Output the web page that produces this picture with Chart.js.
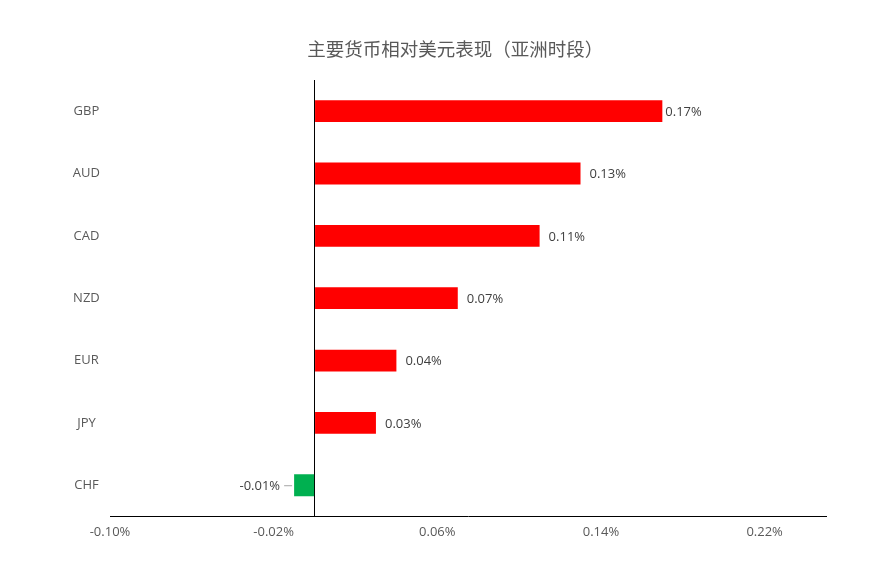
<!DOCTYPE html>
<html><head><meta charset="utf-8">
<script src="https://cdn.jsdelivr.net/npm/chart.js@4"></script>
<style>html,body{margin:0;padding:0;background:#fff}#wrap{width:877px;height:564px}</style>
</head><body><div id="wrap"><canvas id="c"></canvas></div>
<script>
const categories = ['GBP','AUD','CAD','NZD','EUR','JPY','CHF'];
const values = [0.17, 0.13, 0.11, 0.07, 0.04, 0.03, -0.01];
const tickValues = [-0.10, -0.02, 0, 0.06, 0.14, 0.22];
const titleText = '主要货币相对美元表现（亚洲时段）';

const colors = values.map(v => v >= 0 ? '#FF0000' : '#00B050');
const txt = '#595959';

const titlePlugin = {
  id: 'offsetTitle',
  afterDraw(chart) {
    const ctx = chart.ctx;
    ctx.save();
    ctx.font = '18.5px "Noto Sans CJK SC"';
    ctx.fillStyle = txt;
    ctx.textAlign = 'center';
    ctx.textBaseline = 'middle';
    ctx.fillText(titleText, chart.width * 0.519, 49);
    ctx.restore();
  }
};

const labelPlugin = {
  id: 'barLabels',
  afterDatasetsDraw(chart) {
    const ctx = chart.ctx;
    const meta = chart.getDatasetMeta(0);
    ctx.save();
    ctx.font = '13px "Open Sans"';
    ctx.fillStyle = '#404040';
    ctx.textBaseline = 'middle';
    meta.data.forEach((bar, i) => {
      const v = values[i];
      const s = v.toFixed(2) + '%';
      if (v >= 0) {
        ctx.textAlign = 'left';
        const gap = (bar.x > chart.chartArea.left + (chart.chartArea.right - chart.chartArea.left) * 0.7) ? 3 : 9;
        ctx.fillText(s, bar.x + gap, bar.y + 1);
      } else {
        ctx.textAlign = 'right';
        ctx.fillText(s, bar.x - 14, bar.y + 1);
        ctx.strokeStyle = '#a6a6a6';
        ctx.lineWidth = 1;
        ctx.beginPath();
        ctx.moveTo(bar.x - 10, bar.y + 0.5);
        ctx.lineTo(bar.x - 2, bar.y + 0.5);
        ctx.stroke();
      }
    });
    ctx.restore();
  }
};

new Chart(document.getElementById('c'), {
  type: 'bar',
  data: {
    labels: categories,
    datasets: [{ data: values, backgroundColor: colors, barPercentage: 0.35, categoryPercentage: 1.0 }]
  },
  options: {
    indexAxis: 'y',
    responsive: true,
    maintainAspectRatio: false,
    animation: false,
    layout: { padding: { left: 60, right: 51, top: 80, bottom: 16 } },
    plugins: {
      legend: { display: false },
      tooltip: { enabled: false },
      title: { display: false }
    },
    scales: {
      x: {
        min: -0.10, max: 0.25,
        afterBuildTicks(scale) { scale.ticks = tickValues.map(v => ({ value: v })); },
        ticks: {
          autoSkip: false, color: txt, padding: 8,
          font: { family: '"Open Sans"', size: 13 },
          callback: v => v === 0 ? '' : v.toFixed(2) + '%'
        },
        grid: {
          drawTicks: false,
          color: c => (c.tick && c.tick.value === 0) ? '#000000' : 'rgba(0,0,0,0)',
          lineWidth: 1
        },
        border: { display: true, color: '#000000', width: 1 }
      },
      y: {
        afterFit(scale) { scale.width = 50; },
        ticks: {
          color: txt, crossAlign: 'center', padding: 10,
          font: { family: '"Open Sans"', size: 13 }
        },
        grid: { display: false, drawTicks: false },
        border: { display: false }
      }
    }
  },
  plugins: [labelPlugin, titlePlugin]
});
</script></body></html>
